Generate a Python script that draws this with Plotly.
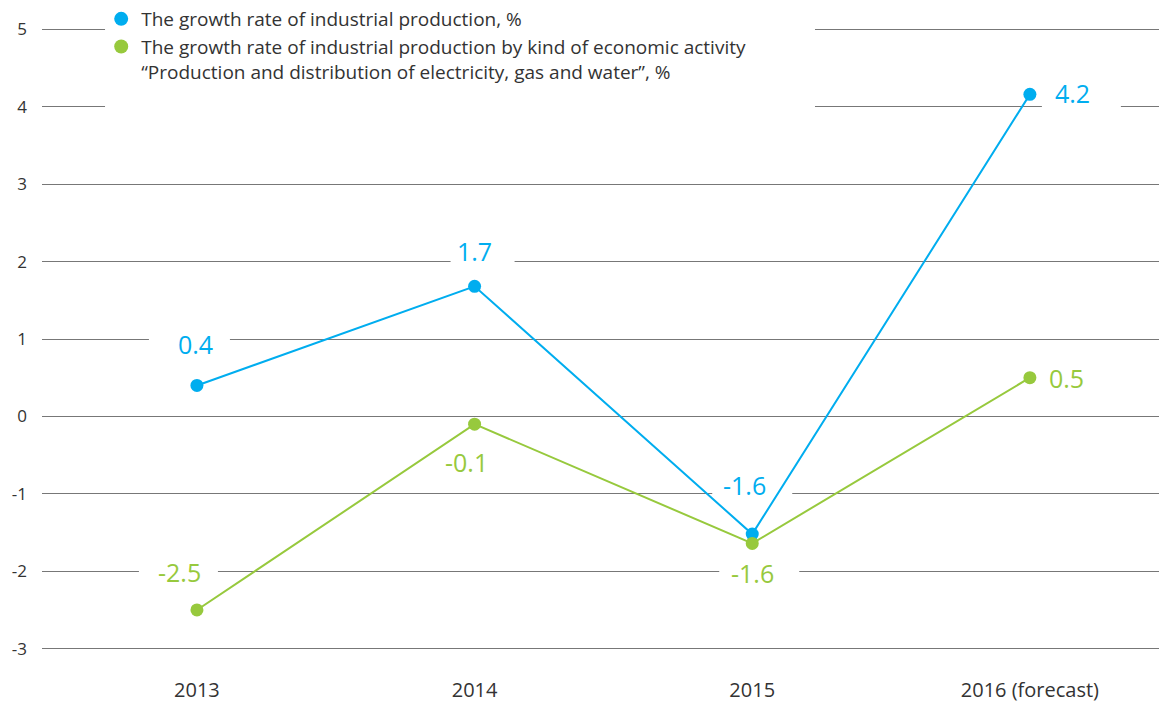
import plotly.graph_objects as go

years = ["2013", "2014", "2015", "2016 (forecast)"]
industrial = [0.4, 1.68, -1.52, 4.16]
industrial_labels = ["0.4", "1.7", "-1.6", "4.2"]
utilities = [-2.5, -0.1, -1.64, 0.5]
utilities_labels = ["-2.5", "-0.1", "-1.6", "0.5"]
y_ticks = [-3, -2, -1, 0, 1, 2, 3, 4, 5]
y_tick_text = ["-3", "-2", "-1", "0", "1", "2", "3", "4", "5"]

BLUE = "#00adef"
GREEN = "#97c93d"
GRID = "#777777"
TEXT = "#333333"
FONT = "Open Sans, sans-serif"

# label offsets (px) from the marker, and the white gap behind each label
# (dx, dy, gap_left, gap_right) ; gap None = no gridline to clear
blue_pos = [(-1, 41, -47, 34), (0, 35, -24, 40), (-8, 49, -32, 48), (43, 1, -31, 48)]
green_pos = [(-17, 38, -41, 38), (-8, -38, None, None), (0, -30, -33, 47), (37, 0, None, None)]

x_idx = list(range(len(years)))
fig = go.Figure()
fig.add_trace(go.Scatter(
    x=x_idx, y=industrial, mode="lines+markers", showlegend=False,
    line=dict(color=BLUE, width=2), marker=dict(color=BLUE, size=13),
))
fig.add_trace(go.Scatter(
    x=x_idx, y=utilities, mode="lines+markers", showlegend=False,
    line=dict(color=GREEN, width=2), marker=dict(color=GREEN, size=13),
))
# legend entries: dot only
fig.add_trace(go.Scatter(
    x=[None], y=[None], mode="markers",
    name="The growth rate of industrial production, %",
    marker=dict(color=BLUE, size=14),
))
fig.add_trace(go.Scatter(
    x=[None], y=[None], mode="markers",
    name="The growth rate of industrial production by kind of economic activity<br>"
         "\u201cProduction and distribution of electricity, gas and water\u201d, %",
    marker=dict(color=GREEN, size=14),
))

shapes = []
annotations = []
for values, labels, pos, color in [
    (industrial, industrial_labels, blue_pos, BLUE),
    (utilities, utilities_labels, green_pos, GREEN),
]:
    for i, (v, lab, (dx, dy, g0, g1)) in enumerate(zip(values, labels, pos)):
        annotations.append(dict(
            x=i, y=v, text=lab, showarrow=False, xshift=dx, yshift=dy,
            font=dict(family=FONT, size=25, color=color),
        ))
        if g0 is not None:
            shapes.append(dict(
                type="rect", layer="between", xref="x", yref="y",
                xsizemode="pixel", ysizemode="pixel", xanchor=i, yanchor=v,
                x0=dx + g0, x1=dx + g1, y0=dy - 20, y1=dy + 14,
                fillcolor="white", line=dict(width=0),
            ))

# white area behind the legend (clears the 4 and 5 gridlines)
shapes.append(dict(
    type="rect", layer="between", xref="x", yref="y",
    x0=-0.331, x1=2.226, y0=3.75, y1=5.2,
    fillcolor="white", line=dict(width=0),
))

fig.update_layout(
    width=1159, height=703,
    margin=dict(l=42, r=0, t=27, b=52),
    paper_bgcolor="white", plot_bgcolor="white",
    font=dict(family=FONT, size=16, color=TEXT),
    shapes=shapes, annotations=annotations,
    legend=dict(
        x=0.053, xanchor="left", y=1.0433, yanchor="top",
        bgcolor="rgba(0,0,0,0)", valign="top",
        font=dict(family=FONT, size=19, color=TEXT),
        itemwidth=30, tracegroupgap=0,
    ),
    xaxis=dict(
        range=[-0.558, 3.465], tickvals=x_idx, ticktext=years,
        showgrid=False, zeroline=False, showline=False, automargin=False,
        ticklabelstandoff=25, tickfont=dict(size=20, color=TEXT),
    ),
    yaxis=dict(
        range=[-3.03, 5.03], tickvals=y_ticks, ticktext=y_tick_text,
        showgrid=True, gridcolor=GRID, gridwidth=1,
        zeroline=True, zerolinecolor=GRID, zerolinewidth=1, showline=False,
        automargin=False, ticklabelstandoff=14, tickfont=dict(size=17, color=TEXT),
    ),
)

fig.write_html(
    "out.html",
    config={"displayModeBar": False},
    post_script="document.body.style.margin='0';",
)
